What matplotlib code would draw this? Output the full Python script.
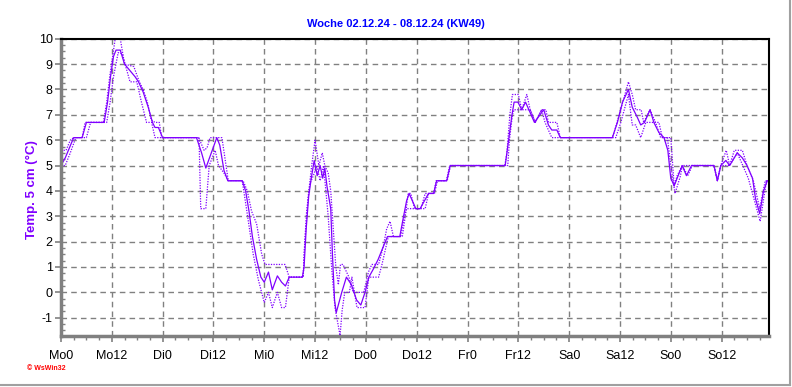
import matplotlib
matplotlib.use("Agg")
import matplotlib.pyplot as plt
from matplotlib.lines import Line2D
from matplotlib.ticker import MultipleLocator

plt.rcParams["font.family"] = ["Liberation Sans", "DejaVu Sans"]

# hours since Monday 00:00
mean_t = [0, 1, 2, 3, 5, 6, 10.2, 11, 11.7, 12.4, 13, 14, 15, 16, 17.5, 18.3, 19.4, 20.6,
          21.6, 22.2, 23, 24, 32, 33.2, 34.2, 35.5, 36.8, 37.5, 38.5, 39.4, 42.8, 43.6,
          44.4, 45.2, 46.2, 47.2, 48, 49, 49.9, 51.1, 52.1, 53, 53.9, 57, 57.4, 57.9, 58.5,
          59.1, 59.8, 60.5, 61.2, 61.8, 62.3, 62.8, 63.7, 64.1, 64.6, 65, 66.3, 67.4, 68.6,
          69.8, 70.8, 71.8, 72.7, 73.7, 74.9, 76.1, 77.1, 80, 80.9, 81.6, 82.2, 83.8, 84.8,
          86.8, 88, 88.7, 91.1, 91.9, 104.9, 105.7, 106.5, 107, 107.9, 108.8, 109.7, 111.8,
          114, 115.1, 115.9, 117.1, 117.9, 130.2, 131.4, 132.6, 134, 134.9, 136.1, 136.9,
          137.8, 139.1, 140, 141.2, 142.4, 143.3, 144, 144.8, 145.5, 146.7, 147.7, 148.9,
          154.2, 155, 155.8, 157, 157.9, 159.7, 160.9, 162, 163.3, 164, 165, 165.9, 166.8, 167.2]
mean_v = [5.0, 5.3, 5.7, 6.1, 6.1, 6.7, 6.7, 7.5, 8.5, 9.3, 9.55, 9.55, 9.0, 8.8, 8.5, 8.3,
          7.9, 7.3, 6.7, 6.5, 6.5, 6.1, 6.1, 5.5, 4.9, 5.5, 6.1, 5.8, 4.8, 4.4, 4.4, 4.0,
          3.2, 2.2, 1.3, 0.6, 0.4, 0.8, 0.1, 0.65, 0.4, 0.25, 0.6, 0.6, 1.0, 2.5, 3.8, 4.5,
          5.2, 4.6, 5.0, 4.5, 4.9, 4.2, 3.3, 1.5, -0.3, -0.8, 0.0, 0.6, 0.3, -0.3, -0.5, 0.0,
          0.6, 0.9, 1.3, 1.8, 2.2, 2.2, 3.0, 3.6, 3.9, 3.3, 3.3, 3.9, 3.9, 4.4, 4.4, 5.0,
          5.0, 6.0, 7.0, 7.5, 7.5, 7.2, 7.5, 6.7, 7.2, 6.6, 6.4, 6.4, 6.1, 6.1, 6.7, 7.5,
          8.0, 7.3, 6.9, 6.6, 6.7, 7.2, 6.7, 6.3, 6.1, 5.6, 4.5, 4.2, 4.5, 5.0, 4.6, 5.0,
          5.0, 4.4, 5.0, 5.2, 5.0, 5.5, 5.3, 5.0, 4.5, 3.7, 3.1, 4.0, 4.4, 4.4]

max_t = [0, 1.2, 2.2, 3, 5, 5.7, 10, 10.8, 11.5, 12.2, 12.8, 14, 15, 17.2, 18.5, 19.4, 20.4,
         21.3, 22.2, 23.2, 23.8, 32.5, 33.8, 34.5, 35.2, 38, 38.8, 39.5, 43, 44, 45, 46.2,
         47.4, 48.2, 52.9, 53.9, 57.2, 57.6, 58.4, 59.2, 60, 60.9, 61.7, 62.3, 63.1, 63.7,
         64.3, 64.9, 65.5, 66, 66.6, 68, 69, 71.5, 72.6, 73.4, 75, 76.1, 76.9, 77.7, 78.5,
         80.6, 81.3, 82, 82.6, 83.5, 85, 86, 88, 88.6, 91, 91.8, 104.8, 105.3, 106, 106.6,
         108, 108.8, 110, 110.8, 112, 113.5, 114.5, 115.1, 117.1, 117.9, 130.2, 130.6, 131.8,
         133, 134, 134.9, 135.7, 137, 137.6, 139.1, 140.4, 141.2, 142, 144, 144.8, 145.5,
         146.7, 154.2, 155, 155.8, 157.1, 157.9, 159, 160.9, 162, 163.5, 165, 166.3, 167.2]
max_v = [5.6, 5.6, 6.0, 6.1, 6.1, 6.7, 6.7, 7.5, 8.5, 9.3, 10.0, 10.0, 9.0, 8.9, 8.3, 8.0,
         7.5, 6.8, 6.7, 6.7, 6.1, 6.1, 5.6, 5.7, 6.1, 6.1, 5.2, 4.4, 4.4, 4.0, 3.2, 2.7,
         1.5, 1.1, 1.1, 0.6, 0.6, 2.0, 3.8, 5.0, 6.0, 5.0, 5.5, 5.0, 4.7, 4.0, 2.5, 1.0,
         0.3, 1.1, 1.1, 0.6, 0.0, 0.0, 0.8, 1.1, 1.1, 1.8, 2.5, 2.8, 2.2, 2.2, 3.0, 3.9,
         3.9, 3.3, 3.3, 3.9, 3.9, 4.4, 4.4, 5.0, 5.0, 5.5, 7.0, 7.8, 7.8, 7.2, 7.8, 7.2,
         6.7, 7.2, 7.2, 6.7, 6.7, 6.1, 6.1, 6.3, 7.0, 7.7, 8.3, 7.8, 7.2, 7.2, 6.7, 7.2,
         6.7, 6.7, 6.1, 6.1, 4.2, 4.6, 5.0, 5.0, 4.4, 5.0, 5.6, 5.0, 5.6, 5.6, 5.0, 4.4,
         3.3, 4.4, 4.4]

min_t = [0, 1, 2.2, 3.5, 6, 7, 10.8, 11.6, 12.4, 13.5, 14.5, 15.3, 16.3, 17.9, 19, 20.2,
         21.4, 22.2, 32.6, 33, 34.2, 35, 36.4, 37.2, 38.5, 39.5, 42.8, 43.8, 45.4, 46.6, 48,
         49, 49.9, 51.1, 52.1, 53, 53.9, 57.2, 57.4, 58, 58.8, 59.6, 60.4, 61.2, 62, 63.1,
         63.9, 64.7, 65.9, 66.4, 67, 68.1, 68.7, 69.9, 71.8, 72.7, 75, 75.8, 77.3, 80.2,
         81.1, 81.6, 86, 86.8, 88.2, 88.9, 91.2, 92, 105.5, 105.9, 106.6, 107, 110.8, 112,
         113.5, 114.3, 115.9, 131, 132.2, 134, 134.9, 135.7, 136.9, 138.1, 140.4, 141.6,
         143.2, 144, 145, 146.3, 146.7, 148, 149.1, 154.2, 155, 155.8, 157.9, 159.7, 161,
         162.3, 165.1, 166.6, 167.2]
min_v = [5.0, 5.0, 5.5, 6.1, 6.1, 6.7, 6.7, 7.5, 8.5, 9.45, 9.4, 8.9, 8.3, 8.3, 7.5, 6.7,
         6.7, 6.1, 6.1, 3.3, 3.3, 5.0, 5.6, 5.0, 4.7, 4.4, 4.4, 3.3, 1.5, 0.5, -0.4,
         0.0, -0.6, 0.0, -0.6, -0.6, 0.6, 0.6, 1.5, 3.2, 4.3, 4.6, 5.0, 4.4, 5.0, 3.0,
         1.0, -0.6, -1.7, -0.7, 0.0, 0.0, 0.6, -0.6, -0.6, 0.6, 0.6, 1.1, 2.2, 2.2,
         3.0, 3.3, 3.3, 3.9, 3.9, 4.4, 4.4, 5.0, 5.0, 6.0, 7.0, 7.2, 7.2, 6.7,
         7.2, 6.7, 6.1, 6.1, 6.7, 7.8, 6.6, 6.6, 6.1, 6.7, 6.7, 6.1,
         6.1, 5.0, 3.9, 4.6, 5.0, 4.6, 5.0, 5.0, 4.4, 5.0, 5.0, 5.5, 5.0,
         4.5, 2.8, 4.4, 4.4]

day_labels = ["Mo0", "Mo12", "Di0", "Di12", "Mi0", "Mi12", "Do0", "Do12",
              "Fr0", "Fr12", "Sa0", "Sa12", "So0", "So12"]
y_labels = ["10", "9", "8", "7", "6", "5", "4", "3", "2", "1", "0", "-1"]

line_col = "#8000ff"
grid_col = "#808080"

fig = plt.figure(figsize=(7.92, 3.87), dpi=100)
ax = fig.add_axes([0.077, 0.1318, 0.894, 0.7682])

ax.plot(min_t, min_v, color=line_col, lw=0.9, ls=(0, (1, 1.1)))
ax.plot(max_t, max_v, color=line_col, lw=0.9, ls=(0, (1, 1.1)))
ax.plot(mean_t, mean_v, color=line_col, lw=0.9)

ax.set_xlim(0, 167.2)
ax.set_ylim(-1.72, 10)

ax.set_xticks(range(0, 168, 12))
ax.set_xticklabels(day_labels)
ax.xaxis.set_minor_locator(MultipleLocator(3))
ax.set_yticks([int(v) for v in y_labels])
ax.set_yticklabels(y_labels)
ax.yaxis.set_minor_locator(MultipleLocator(0.25))

ax.tick_params(axis="both", which="major", labelsize=9, color=grid_col, width=1.2, length=4, pad=2)
ax.tick_params(axis="x", which="major", pad=6)
ax.tick_params(axis="x", which="minor", direction="out", length=3, color=grid_col, width=1)
ax.tick_params(axis="y", which="minor", direction="in", length=3, color=grid_col, width=1)

ax.grid(True, which="major", color=grid_col, lw=1.0, ls=(0, (4, 3)))

for side in ("left", "bottom"):
    ax.spines[side].set_color(grid_col)
    ax.spines[side].set_linewidth(2.5)
for side in ("top", "right"):
    ax.spines[side].set_color("black")
    ax.spines[side].set_linewidth(1.5)

fig.text(0.5, 0.938, "Woche 02.12.24 - 08.12.24 (KW49)", ha="center", va="center",
         color="#0000ff", fontsize=8, fontweight="bold")
fig.text(0.041, 0.51, "Temp. 5 cm (°C)", ha="center", va="center", rotation=90,
         color=line_col, fontsize=9.5, fontweight="bold")
fig.text(0.034, 0.049, "\u00a9 WsWin32", ha="left", va="center", color="red",
         fontsize=5, fontweight="bold")

# grey frame on right and bottom of the image
fig.add_artist(Line2D([0.9975, 0.9975], [0.004, 1.0], color="#a0a0a0", lw=1.5))
fig.add_artist(Line2D([0.0, 0.9975], [0.004, 0.004], color="#a0a0a0", lw=1.5))

fig.savefig("out.png", dpi=100)
